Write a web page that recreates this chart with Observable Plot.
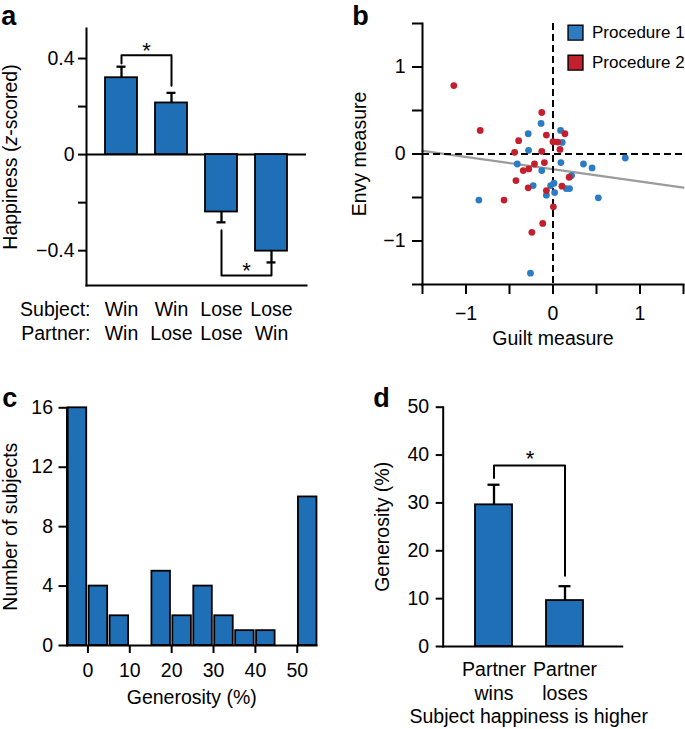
<!DOCTYPE html>
<html><head><meta charset="utf-8">
<script src="https://cdn.jsdelivr.net/npm/d3@7"></script>
<script src="https://cdn.jsdelivr.net/npm/@observablehq/plot@0.6"></script>
<style>
body{margin:0;background:#fff}
#fig{position:relative;width:685px;height:729px;background:#fff;overflow:hidden}
</style></head><body><div id="fig"></div>
<script>
// ---------- Panel a data ----------
const aConds = ["WW", "WL", "LL", "LW"];
const aSubject = ["Win", "Win", "Lose", "Lose"];
const aPartner = ["Win", "Lose", "Lose", "Win"];
const aRowLabels = ["Subject:", "Partner:"];
const aMean = [0.32, 0.215, -0.239, -0.402];
const aErr = [0.366, 0.257, -0.282, -0.449];
const aTicks = [-0.4, -0.2, 0, 0.2, 0.4];
const aTickLabels = ["−0.4", "", "0", "", "0.4"];
const aBrFrom = ["WW", "LL"];
const aBrTo = ["WL", "LW"];
const aBrLevel = [0.414, -0.503];
const aBrFromEnd = [0.379, -0.315];
const aBrToEnd = [0.287, -0.453];
const aYLabel = "Happiness (z-scored)";

// ---------- Panel b data ----------
const bProcs = ["Procedure 1", "Procedure 2"];
const p1x = [-0.137, -0.285, 0.087, 0.106, -0.281, -0.411, -0.129, 0.091, 0.35, 0.449, 0.213, -0.228, -0.027, 0.011, -0.076, 0.019, 0.152, 0.19, 0.521, -0.852, -0.259, 0.831];
const p1y = [0.351, 0.233, 0.271, 0.133, 0.042, -0.115, -0.191, -0.099, -0.115, -0.16, -0.248, -0.363, -0.363, -0.336, -0.473, -0.443, -0.397, -0.397, -0.504, -0.53, -1.37, -0.046];
const p2x = [-1.14, -0.837, -0.129, -0.076, -0.395, -0.441, -0.129, 0, 0.053, 0.137, 0.08, -0.213, -0.099, -0.342, -0.278, -0.426, -0.285, -0.076, 0.103, 0.186, -0.563, 0.004, -0.118, -0.243];
const p2y = [0.786, 0.271, 0.477, 0.218, 0.153, 0.019, 0.031, 0.141, 0.137, 0.233, 0.053, -0.115, -0.099, -0.191, -0.172, -0.305, -0.389, -0.42, -0.37, -0.267, -0.53, -0.607, -0.798, -0.9];
const bFitIntercept = -0.175;
const bFitSlope = -0.1405;
const bTicks = [-1.5, -1, -0.5, 0, 0.5, 1, 1.5];
const bTickLabels = ["", "−1", "", "0", "", "1", ""];

// ---------- Panel c data ----------
const cBinLo = [-5, 0, 5, 10, 15, 20, 25, 30, 35, 40, 45, 50];
const cCount = [16, 4, 2, 0, 5, 2, 4, 2, 1, 1, 0, 10];
const cTicksX = [0, 10, 20, 30, 40, 50];
const cTicksY = [0, 4, 8, 12, 16];

// ---------- Panel d data ----------
const dConds = ["Partner\nwins", "Partner\nloses"];
const dMean = [29.6, 9.6];
const dErr = [33.8, 12.6];
const dTicks = [0, 10, 20, 30, 40, 50];
const dBrLevel = 37.8, dBrFromEnd = 35.2, dBrToEnd = 14.8;

// ---------- styles ----------
const FONT = '"Liberation Sans", Arial, Helvetica, sans-serif';
const FS = 19.5;
const STAR = 22;
const barBlue = "#1f6fb7";
const dotColors = ["#2b7cc3", "#c3202f"];
const fig = document.getElementById("fig");
const baseStyle = {fontFamily: FONT, fontSize: FS + "px", background: "transparent", overflow: "visible", color: "black"};
function place(svg, left, top) {
  svg.style.position = "absolute";
  svg.style.left = left + "px";
  svg.style.top = top + "px";
  svg.style.maxWidth = "none";
  fig.appendChild(svg);
}
const letter = (t, dx, dy) => Plot.text([t], {text: d => d, frameAnchor: "top-left", dx, dy, lineAnchor: "bottom", textAnchor: "start", fontWeight: "bold", fontSize: 27});
const ylab = (t, dx) => Plot.text([t], {text: d => d, frameAnchor: "left", rotate: -90, dx, textAnchor: "middle", lineAnchor: "middle", fontSize: FS});

// ---------- Panel a ----------
const aData = aConds.map((c, i) => ({c, mean: aMean[i], err: aErr[i], label: aSubject[i] + "\n" + aPartner[i]}));
const aBr = aBrFrom.flatMap((f, i) => [
  {z: i, x: f, y: aBrFromEnd[i]}, {z: i, x: f, y: aBrLevel[i]},
  {z: i, x: aBrTo[i], y: aBrLevel[i]}, {z: i, x: aBrTo[i], y: aBrToEnd[i]}]);
const plotA = Plot.plot({
  width: 340, height: 360, marginLeft: 86, marginRight: 34, marginTop: 28, marginBottom: 75,
  style: baseStyle,
  x: {type: "band", domain: aConds, paddingInner: 0.36, paddingOuter: 0.37, axis: null},
  y: {domain: [-0.545, 0.525]},
  marks: [
    Plot.ruleY([0], {strokeWidth: 2}),
    Plot.barY(aData, {x: "c", y: "mean", fill: barBlue, stroke: "black", strokeWidth: 1.8}),
    Plot.ruleX(aData, {x: "c", y1: "mean", y2: "err", strokeWidth: 2.3}),
    Plot.tickY(aData, {x: "c", y: "err", strokeWidth: 2.3, insetLeft: 11.5, insetRight: 11.5}),
    Plot.line(aBr, {x: "x", y: "y", z: "z", strokeWidth: 2}),
    Plot.text(aBrFrom.map((f, i) => ({x: f, y: aBrLevel[i]})), {x: "x", y: "y", text: () => "*", dx: 25, lineAnchor: "bottom", dy: 3, fontSize: STAR}),
    Plot.axisY({ticks: aTicks, tickFormat: d => aTickLabels[aTicks.indexOf(d)], tickSize: 8, tickPadding: 4, strokeWidth: 2, label: null, fontSize: FS}),
    Plot.frame({anchor: "left", strokeWidth: 2}),
    Plot.frame({anchor: "bottom", strokeWidth: 2}),
    Plot.text(aData, {x: "c", text: "label", frameAnchor: "bottom", lineAnchor: "top", dy: 14, lineHeight: 1.2, fontSize: FS}),
    Plot.text([aRowLabels.join("\n")], {x: () => aConds[0], text: d => d, frameAnchor: "bottom", lineAnchor: "top", dy: 14, dx: -31, textAnchor: "end", lineHeight: 1.2, fontSize: FS}),
    ylab(aYLabel, -76),
    letter("a", -85.3, -3.7)
  ]
});
place(plotA, 0, 0);

// ---------- Panel b ----------
const bPts = [
  ...p1x.map((x, i) => ({x, y: p1y[i], p: bProcs[0]})),
  ...p2x.map((x, i) => ({x, y: p2y[i], p: bProcs[1]}))
];
const bFit = [bTicks[0], bTicks[bTicks.length - 1]].map(x => ({x, y: bFitIntercept + bFitSlope * x}));
const plotB = Plot.plot({
  width: 345, height: 360, marginLeft: 82, marginRight: 2, marginTop: 23, marginBottom: 76,
  style: baseStyle,
  x: {domain: [-1.5, 1.5]},
  y: {domain: [-1.5, 1.5]},
  color: {domain: bProcs, range: dotColors},
  marks: [
    Plot.line(bFit, {x: "x", y: "y", stroke: "#9b9b9b", strokeWidth: 2.2}),
    Plot.ruleX([0], {strokeWidth: 2, strokeDasharray: "7,4"}),
    Plot.ruleY([0], {strokeWidth: 2, strokeDasharray: "7,4"}),
    Plot.dot(bPts, {x: "x", y: "y", fill: "p", r: 3.4}),
    Plot.axisY({ticks: bTicks, tickFormat: d => bTickLabels[bTicks.indexOf(d)], tickSize: 10, tickPadding: 7, strokeWidth: 2, label: null, fontSize: FS}),
    Plot.axisX({ticks: bTicks, tickFormat: d => bTickLabels[bTicks.indexOf(d)], tickSize: 10, tickPadding: 12, strokeWidth: 2, label: null, fontSize: FS}),
    Plot.frame({anchor: "left", strokeWidth: 2}),
    Plot.frame({anchor: "bottom", strokeWidth: 2}),
    Plot.text(["Guilt measure"], {text: d => d, frameAnchor: "bottom", lineAnchor: "top", dy: 47, fontSize: FS}),
    ylab("Envy measure", -63),
    ...bProcs.map((p, i) => Plot.dot([p], {frameAnchor: "top-left", dx: 153, dy: 9.2 + 30 * i, symbol: "square", r: 8.4, fill: dotColors[i], stroke: "black", strokeWidth: 1.4})),
    ...bProcs.map((p, i) => Plot.text([p], {text: d => d, frameAnchor: "top-left", dx: 169.5, dy: 9.2 + 30 * i, textAnchor: "start", lineAnchor: "middle", fontSize: 17})),
    letter("b", -70.3, 1.3)
  ]
});
place(plotB, 340, 0);

// ---------- Panel c ----------
const cData = cBinLo.map((lo, i) => ({lo, hi: lo + 5, n: cCount[i]})).filter(d => d.n > 0);
const plotC = Plot.plot({
  width: 340, height: 369, marginLeft: 66.5, marginRight: 24, marginTop: 47.3, marginBottom: 84,
  style: baseStyle,
  x: {domain: [-5, 54.6]},
  y: {domain: [0, 16]},
  marks: [
    Plot.rectY(cData, {x1: "lo", x2: "hi", y: "n", insetLeft: 1.2, insetRight: 1.2, fill: barBlue, stroke: "black", strokeWidth: 1.8}),
    Plot.axisY({ticks: cTicksY, tickSize: 8, tickPadding: 6, strokeWidth: 2, label: null, fontSize: FS}),
    Plot.axisX({ticks: cTicksX, tickSize: 8, tickPadding: 10, strokeWidth: 2, label: null, fontSize: FS}),
    Plot.frame({anchor: "left", strokeWidth: 2}),
    Plot.frame({anchor: "bottom", strokeWidth: 2}),
    Plot.text(["Generosity (%)"], {text: d => d, frameAnchor: "bottom", lineAnchor: "top", dy: 45, fontSize: FS}),
    ylab("Number of subjects", -56.5),
    letter("c", -64.8, -0.6)
  ]
});
place(plotC, 0, 360);

// ---------- Panel d ----------
const dData = dConds.map((c, i) => ({c, mean: dMean[i], err: dErr[i]}));
const dBr = [{x: dConds[0], y: dBrFromEnd}, {x: dConds[0], y: dBrLevel}, {x: dConds[1], y: dBrLevel}, {x: dConds[1], y: dBrToEnd}];
const plotD = Plot.plot({
  width: 345, height: 369, marginLeft: 102.7, marginRight: 63.3, marginTop: 46.7, marginBottom: 83,
  style: baseStyle,
  x: {type: "band", domain: dConds, paddingInner: 0.472, paddingOuter: 0.48, align: 0.46, axis: null},
  y: {domain: [0, 50]},
  marks: [
    Plot.barY(dData, {x: "c", y: "mean", fill: barBlue, stroke: "black", strokeWidth: 1.8}),
    Plot.ruleX(dData, {x: "c", y1: "mean", y2: "err", strokeWidth: 2.3}),
    Plot.tickY(dData, {x: "c", y: "err", strokeWidth: 2.3, insetLeft: 12.5, insetRight: 12.5}),
    Plot.line(dBr, {x: "x", y: "y", strokeWidth: 2}),
    Plot.text([{x: dConds[0], y: dBrLevel}], {x: "x", y: "y", text: () => "*", dx: 36, lineAnchor: "bottom", dy: 0, fontSize: STAR}),
    Plot.axisY({ticks: dTicks, tickSize: 7, tickPadding: 7, strokeWidth: 2, label: null, fontSize: FS}),
    Plot.frame({anchor: "left", strokeWidth: 2}),
    Plot.frame({anchor: "bottom", strokeWidth: 2}),
    Plot.text(dData, {x: "c", text: "c", frameAnchor: "bottom", lineAnchor: "top", dy: 13, lineHeight: 1.2, fontSize: FS}),
    Plot.text(["Subject happiness is higher"], {text: d => d, frameAnchor: "bottom", lineAnchor: "top", dy: 63, dx: -4, fontSize: FS}),
    ylab("Generosity (%)", -60),
    letter("d", -70, -0.7)
  ]
});
place(plotD, 340, 360);

// italic z in the panel a label
fig.querySelectorAll("text").forEach(t => {
  if (t.textContent === aYLabel && t.children.length === 0) {
    t.innerHTML = 'Happiness (<tspan font-style="italic">z</tspan>-scored)';
  }
});
</script></body></html>
